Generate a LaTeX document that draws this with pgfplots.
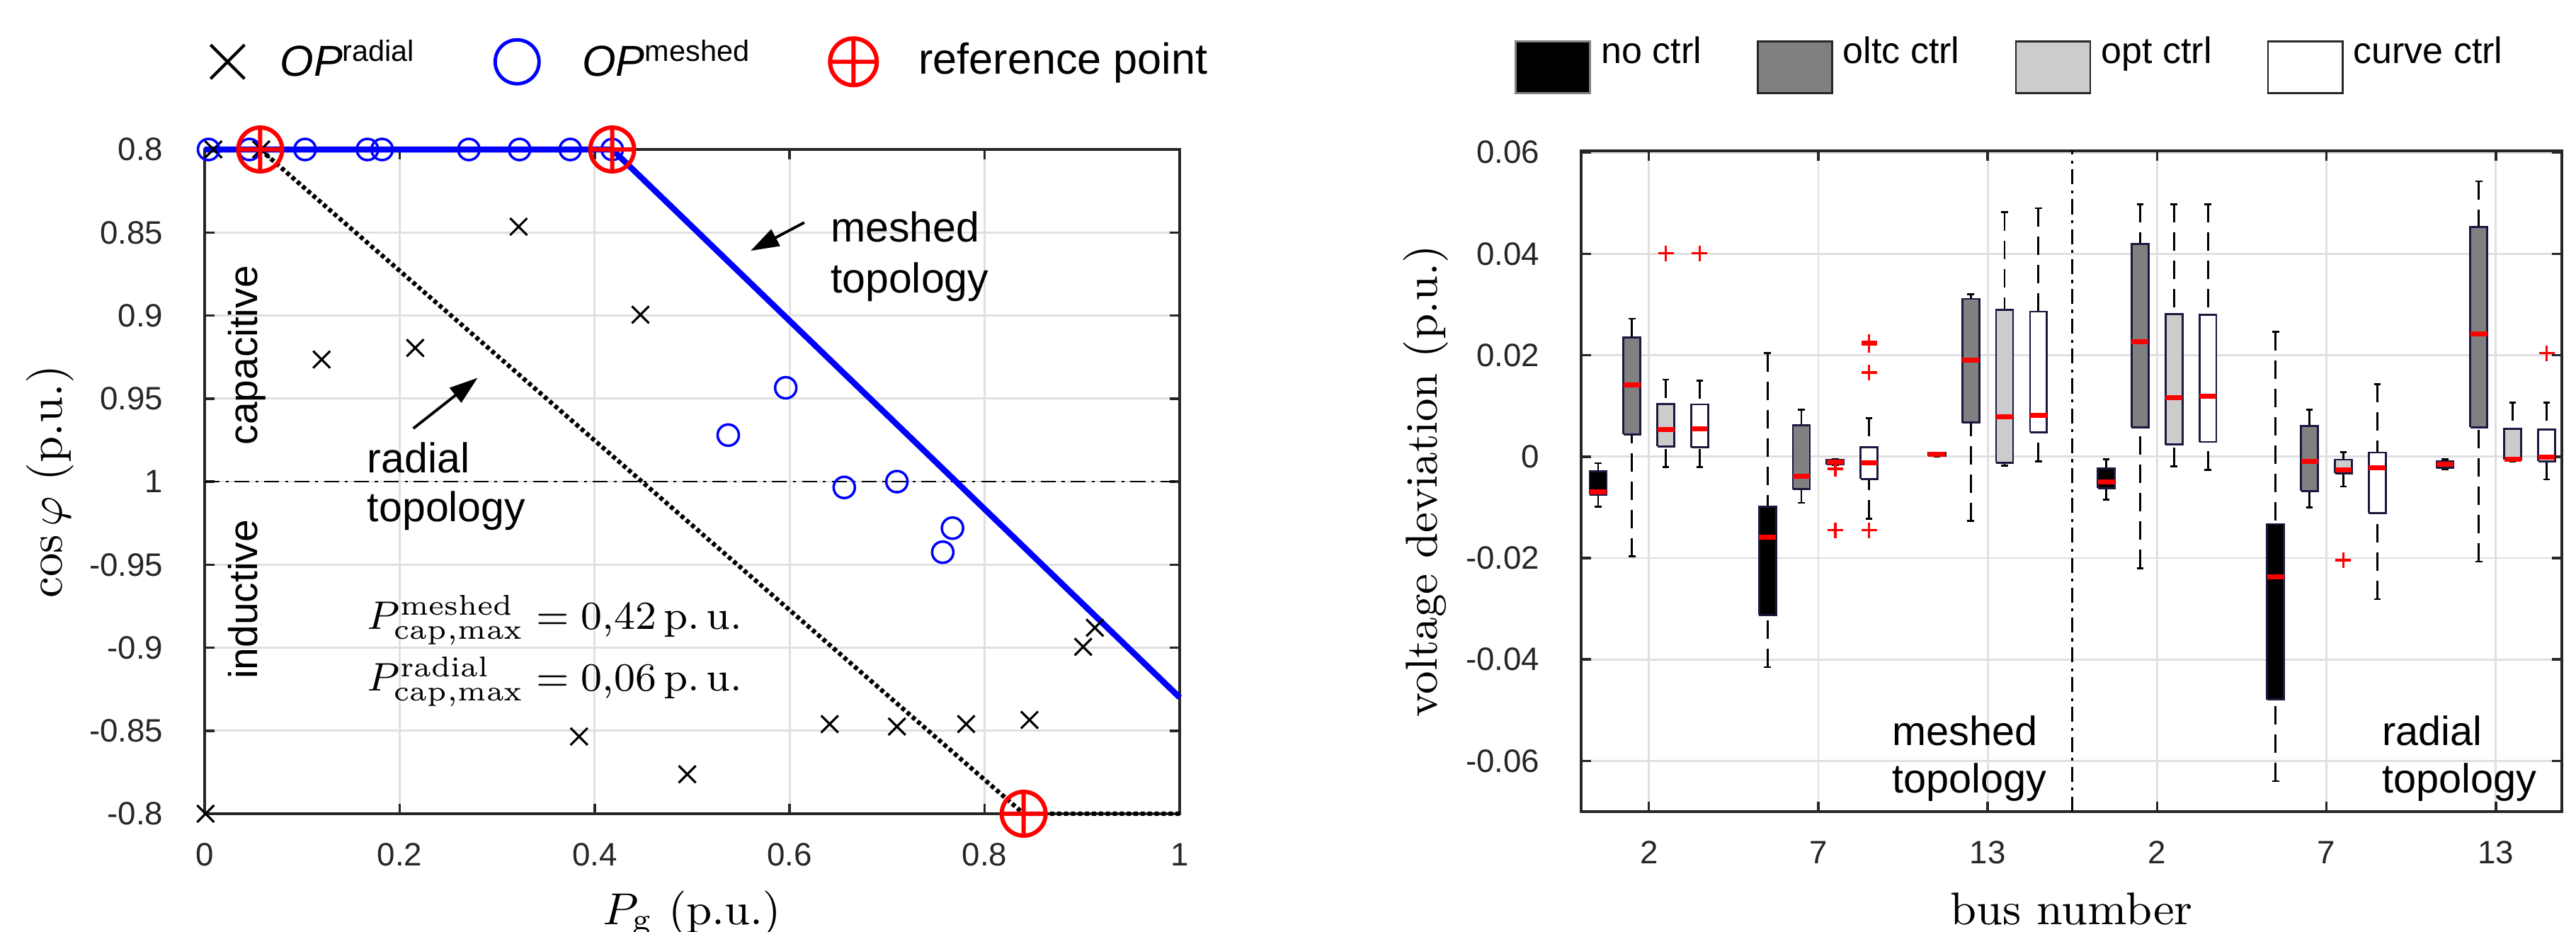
\documentclass[border=0pt]{standalone}
\usepackage{fontspec}
\usepackage{pgfplots}
\pgfplotsset{compat=1.18}
\usetikzlibrary{arrows.meta}

\newfontfamily\arial{Liberation Sans}

\definecolor{axgray}{gray}{0.15}
\definecolor{gridgray}{gray}{0.88}
\definecolor{boxedge}{rgb}{0.1,0.1,0.25}
\definecolor{oltcgray}{gray}{0.5}
\definecolor{optgray}{gray}{0.8}

\pgfplotsset{
  mlaxis/.style={
    scale only axis, anchor=south west,
    grid=major, major grid style={draw=gridgray, line width=0.4pt},
    axis line style={draw=axgray, line width=0.5pt},
    tick style={draw=axgray, line width=0.5pt},
    major tick length=0.07cm, tick align=inside,
    xtick pos=both, ytick pos=both,
    xticklabel pos=bottom, yticklabel pos=left,
    scaled ticks=false,
    ticklabel style={font=\arial\fontsize{6.5}{7}\selectfont, text=axgray},
    xticklabel style={yshift=-0.085cm},
    yticklabel style={xshift=-0.17cm},
  },
  wsk/.style={black, line width=0.4pt, dash pattern=on 0.13cm off 0.07cm},
  cap/.style={black, line width=0.4pt},
}

% one box: position, lower whisker, lower quartile, median, upper quartile, upper whisker, fill
\newcommand{\bxp}[7]{%
  \pgfmathsetmacro\bxl{#1-0.05}\pgfmathsetmacro\bxr{#1+0.05}%
  \pgfmathsetmacro\cpl{#1-0.02}\pgfmathsetmacro\cpr{#1+0.02}%
  \addplot[forget plot, wsk] coordinates {(#1,#2) (#1,#3)};
  \addplot[forget plot, wsk] coordinates {(#1,#6) (#1,#5)};
  \addplot[forget plot, cap] coordinates {(\cpl,#2) (\cpr,#2)};
  \addplot[forget plot, cap] coordinates {(\cpl,#6) (\cpr,#6)};
  \addplot[forget plot, draw=boxedge, fill=#7, line width=0.4pt]
    coordinates {(\bxl,#3) (\bxr,#3) (\bxr,#5) (\bxl,#5) (\bxl,#3)};
  \addplot[forget plot, red, line width=1pt] coordinates {(\bxl,#4) (\bxr,#4)};
}

\begin{document}
\begin{tikzpicture}
\useasboundingbox (0,0) rectangle (18.19,6.575);

% ---------------- left: reactive power limits ----------------
\begin{axis}[mlaxis,
  at={(1.445cm,0.83cm)}, width=6.885cm, height=4.69cm,
  xmin=0, xmax=1, ymin=-4, ymax=4,
  xtick={0,0.2,0.4,0.6,0.8,1}, xticklabels={0,0.2,0.4,0.6,0.8,1},
  ytick={-4,-3,-2,-1,0,1,2,3,4},
  yticklabels={-0.8,-0.85,-0.9,-0.95,1,0.95,0.9,0.85,0.8},
  xlabel={$P_{\mathrm{g}}$ (p.u.)},
  xlabel style={at={(axis description cs:0.5,-0.1663)}, anchor=base, font=\fontsize{9}{10}\selectfont},
  ylabel={$\cos\varphi$ (p.u.)},
  ylabel style={at={(axis description cs:-0.1583,0.5)}, anchor=center, font=\fontsize{9.5}{10}\selectfont},
  clip=false,
  legend columns=3,
  legend style={at={(axis description cs:0.005,1.132)}, anchor=west, draw=none, fill=none,
    inner sep=0pt, font=\arial\fontsize{8.7}{10}\selectfont,
    cells={inner xsep=0pt, inner ysep=1pt},
    /tikz/every even column/.append style={column sep=0.5cm}},
]
\addlegendimage{only marks, mark=x, mark size=0.17cm, black, line width=0.6pt}
\addlegendentry{\hspace{0.18cm}\textit{OP}\raisebox{3.1pt}{\fontsize{5.9}{6}\selectfont radial}}
\addlegendimage{only marks, mark=o, mark size=0.155cm, blue, line width=0.7pt}
\addlegendentry{\hspace{0.235cm}\textit{OP}\raisebox{3.1pt}{\fontsize{5.9}{6}\selectfont meshed}}
\addlegendimage{only marks, mark=oplus, mark size=0.165cm, red, line width=0.85pt}
\addlegendentry{\hspace{0.225cm}reference point}

% cos phi = 1
\addplot[forget plot, black, line width=0.4pt, dash pattern=on 3pt off 1.2pt on 0.6pt off 1.2pt]
  coordinates {(0,0) (1,0)};
% radial topology limit
\addplot[forget plot, black, line width=0.9pt, dash pattern=on 0.8pt off 0.6pt]
  coordinates {(0,4) (0.057,4) (0.84,-4) (1,-4)};
% meshed topology limit
\addplot[forget plot, blue, line width=1.2pt]
  coordinates {(0,4) (0.418,4) (1,-2.6)};

% operating points, radial
\addplot[forget plot, only marks, mark=x, mark size=0.085cm, black, line width=0.45pt] coordinates {
  (0.009,4) (0.058,4) (0.322,3.07) (0.447,2.01) (0.120,1.47) (0.216,1.61)
  (0.001,-4) (0.384,-3.07) (0.495,-3.525) (0.641,-2.92) (0.710,-2.95)
  (0.781,-2.92) (0.846,-2.87) (0.901,-1.99) (0.913,-1.76)};
% operating points, meshed
\addplot[forget plot, only marks, mark=o, mark size=0.075cm, blue, line width=0.5pt] coordinates {
  (0.004,4) (0.046,4) (0.103,4) (0.167,4) (0.182,4) (0.271,4) (0.323,4)
  (0.375,4) (0.418,4) (0.596,1.13) (0.537,0.56) (0.656,-0.07) (0.710,0)
  (0.767,-0.56) (0.757,-0.85)};
% reference points
\addplot[forget plot, only marks, mark=oplus, mark size=0.155cm, red, line width=0.85pt]
  coordinates {(0.057,4) (0.418,4) (0.84,-4)};

\node[anchor=base west, inner sep=0pt, font=\arial\fontsize{8.4}{9}\selectfont] at (axis cs:0.641,2.89) {meshed};
\node[anchor=base west, inner sep=0pt, font=\arial\fontsize{8.4}{9}\selectfont] at (axis cs:0.641,2.27) {topology};
\draw[-{Triangle[length=0.2cm,width=0.13cm]}, line width=0.55pt] (axis cs:0.615,3.12) -- (axis cs:0.560,2.78);
\node[anchor=base west, inner sep=0pt, font=\arial\fontsize{8.4}{9}\selectfont] at (axis cs:0.166,0.11) {radial};
\node[anchor=base west, inner sep=0pt, font=\arial\fontsize{8.4}{9}\selectfont] at (axis cs:0.166,-0.48) {topology};
\draw[-{Triangle[length=0.2cm,width=0.13cm]}, line width=0.55pt] (axis cs:0.214,0.64) -- (axis cs:0.280,1.25);
\node[rotate=90, anchor=base, inner sep=0pt, font=\arial\fontsize{8.1}{9}\selectfont] at (axis cs:0.054,1.52) {capacitive};
\node[rotate=90, anchor=base, inner sep=0pt, font=\arial\fontsize{8.1}{9}\selectfont] at (axis cs:0.054,-1.42) {inductive};
\node[anchor=base west, inner sep=0pt, font=\fontsize{8.2}{9}\selectfont] at (axis cs:0.166,-1.78)
  {$P^{\mathrm{meshed}}_{\mathrm{cap,max}} = 0{,}42\,\mathrm{p.\,u.}$};
\node[anchor=base west, inner sep=0pt, font=\fontsize{8.2}{9}\selectfont] at (axis cs:0.166,-2.52)
  {$P^{\mathrm{radial}}_{\mathrm{cap,max}} = 0{,}06\,\mathrm{p.\,u.}$};
\end{axis}

% ---------------- right: voltage deviation box plots ----------------
\begin{axis}[mlaxis,
  at={(11.165cm,0.845cm)}, width=6.925cm, height=4.665cm,
  xmin=0.6, xmax=6.39, ymin=-0.07, ymax=0.0603,
  xtick={1,2,3,4,5,6}, xticklabels={2,7,13,2,7,13},
  ytick={-0.06,-0.04,-0.02,0,0.02,0.04,0.06},
  yticklabels={-0.06,-0.04,-0.02,0,0.02,0.04,0.06},
  xlabel={bus number},
  xlabel style={at={(axis description cs:0.5,-0.1704)}, anchor=base, font=\fontsize{9.2}{10}\selectfont},
  ylabel={voltage deviation (p.u.)},
  ylabel style={at={(axis description cs:-0.1585,0.5)}, anchor=center, font=\fontsize{9}{10}\selectfont},
  legend columns=4,
  legend style={at={(axis description cs:-0.0686,1.1367)}, anchor=west, draw=none, fill=none,
    inner sep=0pt, font=\arial\fontsize{7.4}{8}\selectfont,
    cells={inner xsep=1pt},
    /tikz/every even column/.append style={column sep=0.32cm}},
  legend image code/.code={\draw[#1] (0cm,-0.275cm) rectangle (0.525cm,0.09cm);},
]
\addlegendimage{fill=black, draw=gray, line width=0.4pt}
\addlegendentry{no ctrl}
\addlegendimage{fill=oltcgray, draw=axgray, line width=0.4pt}
\addlegendentry{oltc ctrl}
\addlegendimage{fill=optgray, draw=axgray, line width=0.4pt}
\addlegendentry{opt ctrl}
\addlegendimage{fill=white, draw=axgray, line width=0.4pt}
\addlegendentry{curve ctrl}

% meshed / radial separator
\addplot[forget plot, black, line width=0.4pt, dash pattern=on 3pt off 1.2pt on 0.6pt off 1.2pt]
  coordinates {(3.5,-0.07) (3.5,0.0603)};

% bus 2, meshed
\bxp{0.7}{-0.0099}{-0.0075}{-0.0070}{-0.0029}{-0.0013}{black}
\bxp{0.9}{-0.0197}{0.0044}{0.0142}{0.0235}{0.0272}{oltcgray}
\bxp{1.1}{-0.0021}{0.0020}{0.0053}{0.0104}{0.0152}{optgray}
\bxp{1.3}{-0.0021}{0.0018}{0.0055}{0.0103}{0.0150}{white}
% bus 7, meshed
\bxp{1.7}{-0.0415}{-0.0312}{-0.0159}{-0.0099}{0.0204}{black}
\bxp{1.9}{-0.0091}{-0.0064}{-0.0039}{0.0062}{0.0092}{oltcgray}
\bxp{2.1}{-0.0017}{-0.0015}{-0.0011}{-0.0007}{-0.0005}{optgray}
\bxp{2.3}{-0.0122}{-0.0044}{-0.0012}{0.0019}{0.0076}{white}
% bus 13, meshed
\bxp{2.7}{0.0000}{0.0001}{0.0004}{0.0007}{0.0008}{black}
\bxp{2.9}{-0.0127}{0.0067}{0.0190}{0.0311}{0.0320}{oltcgray}
\bxp{3.1}{-0.0018}{-0.0012}{0.0078}{0.0290}{0.0482}{optgray}
\bxp{3.3}{-0.0009}{0.0048}{0.0081}{0.0286}{0.0490}{white}
% bus 2, radial
\bxp{3.7}{-0.0085}{-0.0062}{-0.0050}{-0.0023}{-0.0005}{black}
\bxp{3.9}{-0.0220}{0.0058}{0.0226}{0.0419}{0.0498}{oltcgray}
\bxp{4.1}{-0.0019}{0.0024}{0.0116}{0.0281}{0.0498}{optgray}
\bxp{4.3}{-0.0026}{0.0029}{0.0119}{0.0280}{0.0498}{white}
% bus 7, radial
\bxp{4.7}{-0.0640}{-0.0479}{-0.0237}{-0.0133}{0.0246}{black}
\bxp{4.9}{-0.0100}{-0.0068}{-0.0010}{0.0061}{0.0093}{oltcgray}
\bxp{5.1}{-0.0059}{-0.0033}{-0.0026}{-0.0006}{0.0009}{optgray}
\bxp{5.3}{-0.0281}{-0.0111}{-0.0022}{0.0008}{0.0143}{white}
% bus 13, radial
\bxp{5.7}{-0.0025}{-0.0022}{-0.0015}{-0.0009}{-0.0005}{black}
\bxp{5.9}{-0.0207}{0.0058}{0.0242}{0.0453}{0.0543}{oltcgray}
\bxp{6.1}{-0.0009}{-0.0006}{-0.0005}{0.0055}{0.0107}{optgray}
\bxp{6.3}{-0.0045}{-0.0009}{-0.0001}{0.0054}{0.0107}{white}

% outliers
\addplot[forget plot, only marks, mark=+, mark size=0.055cm, red, line width=0.5pt] coordinates {
  (1.1,0.0401) (1.3,0.0401)
  (2.1,-0.0024) (2.1,-0.0145) (2.3,0.0226) (2.3,0.0221) (2.3,0.0166) (2.3,-0.0145)
  (5.1,-0.0204) (6.3,0.0204)};

\node[anchor=base west, inner sep=0pt, font=\arial\fontsize{8.2}{9}\selectfont] at (axis cs:2.43,-0.0570) {meshed};
\node[anchor=base west, inner sep=0pt, font=\arial\fontsize{8.2}{9}\selectfont] at (axis cs:2.43,-0.0663) {topology};
\node[anchor=base west, inner sep=0pt, font=\arial\fontsize{8.2}{9}\selectfont] at (axis cs:5.325,-0.0570) {radial};
\node[anchor=base west, inner sep=0pt, font=\arial\fontsize{8.2}{9}\selectfont] at (axis cs:5.325,-0.0663) {topology};
\end{axis}
\end{tikzpicture}
\end{document}
